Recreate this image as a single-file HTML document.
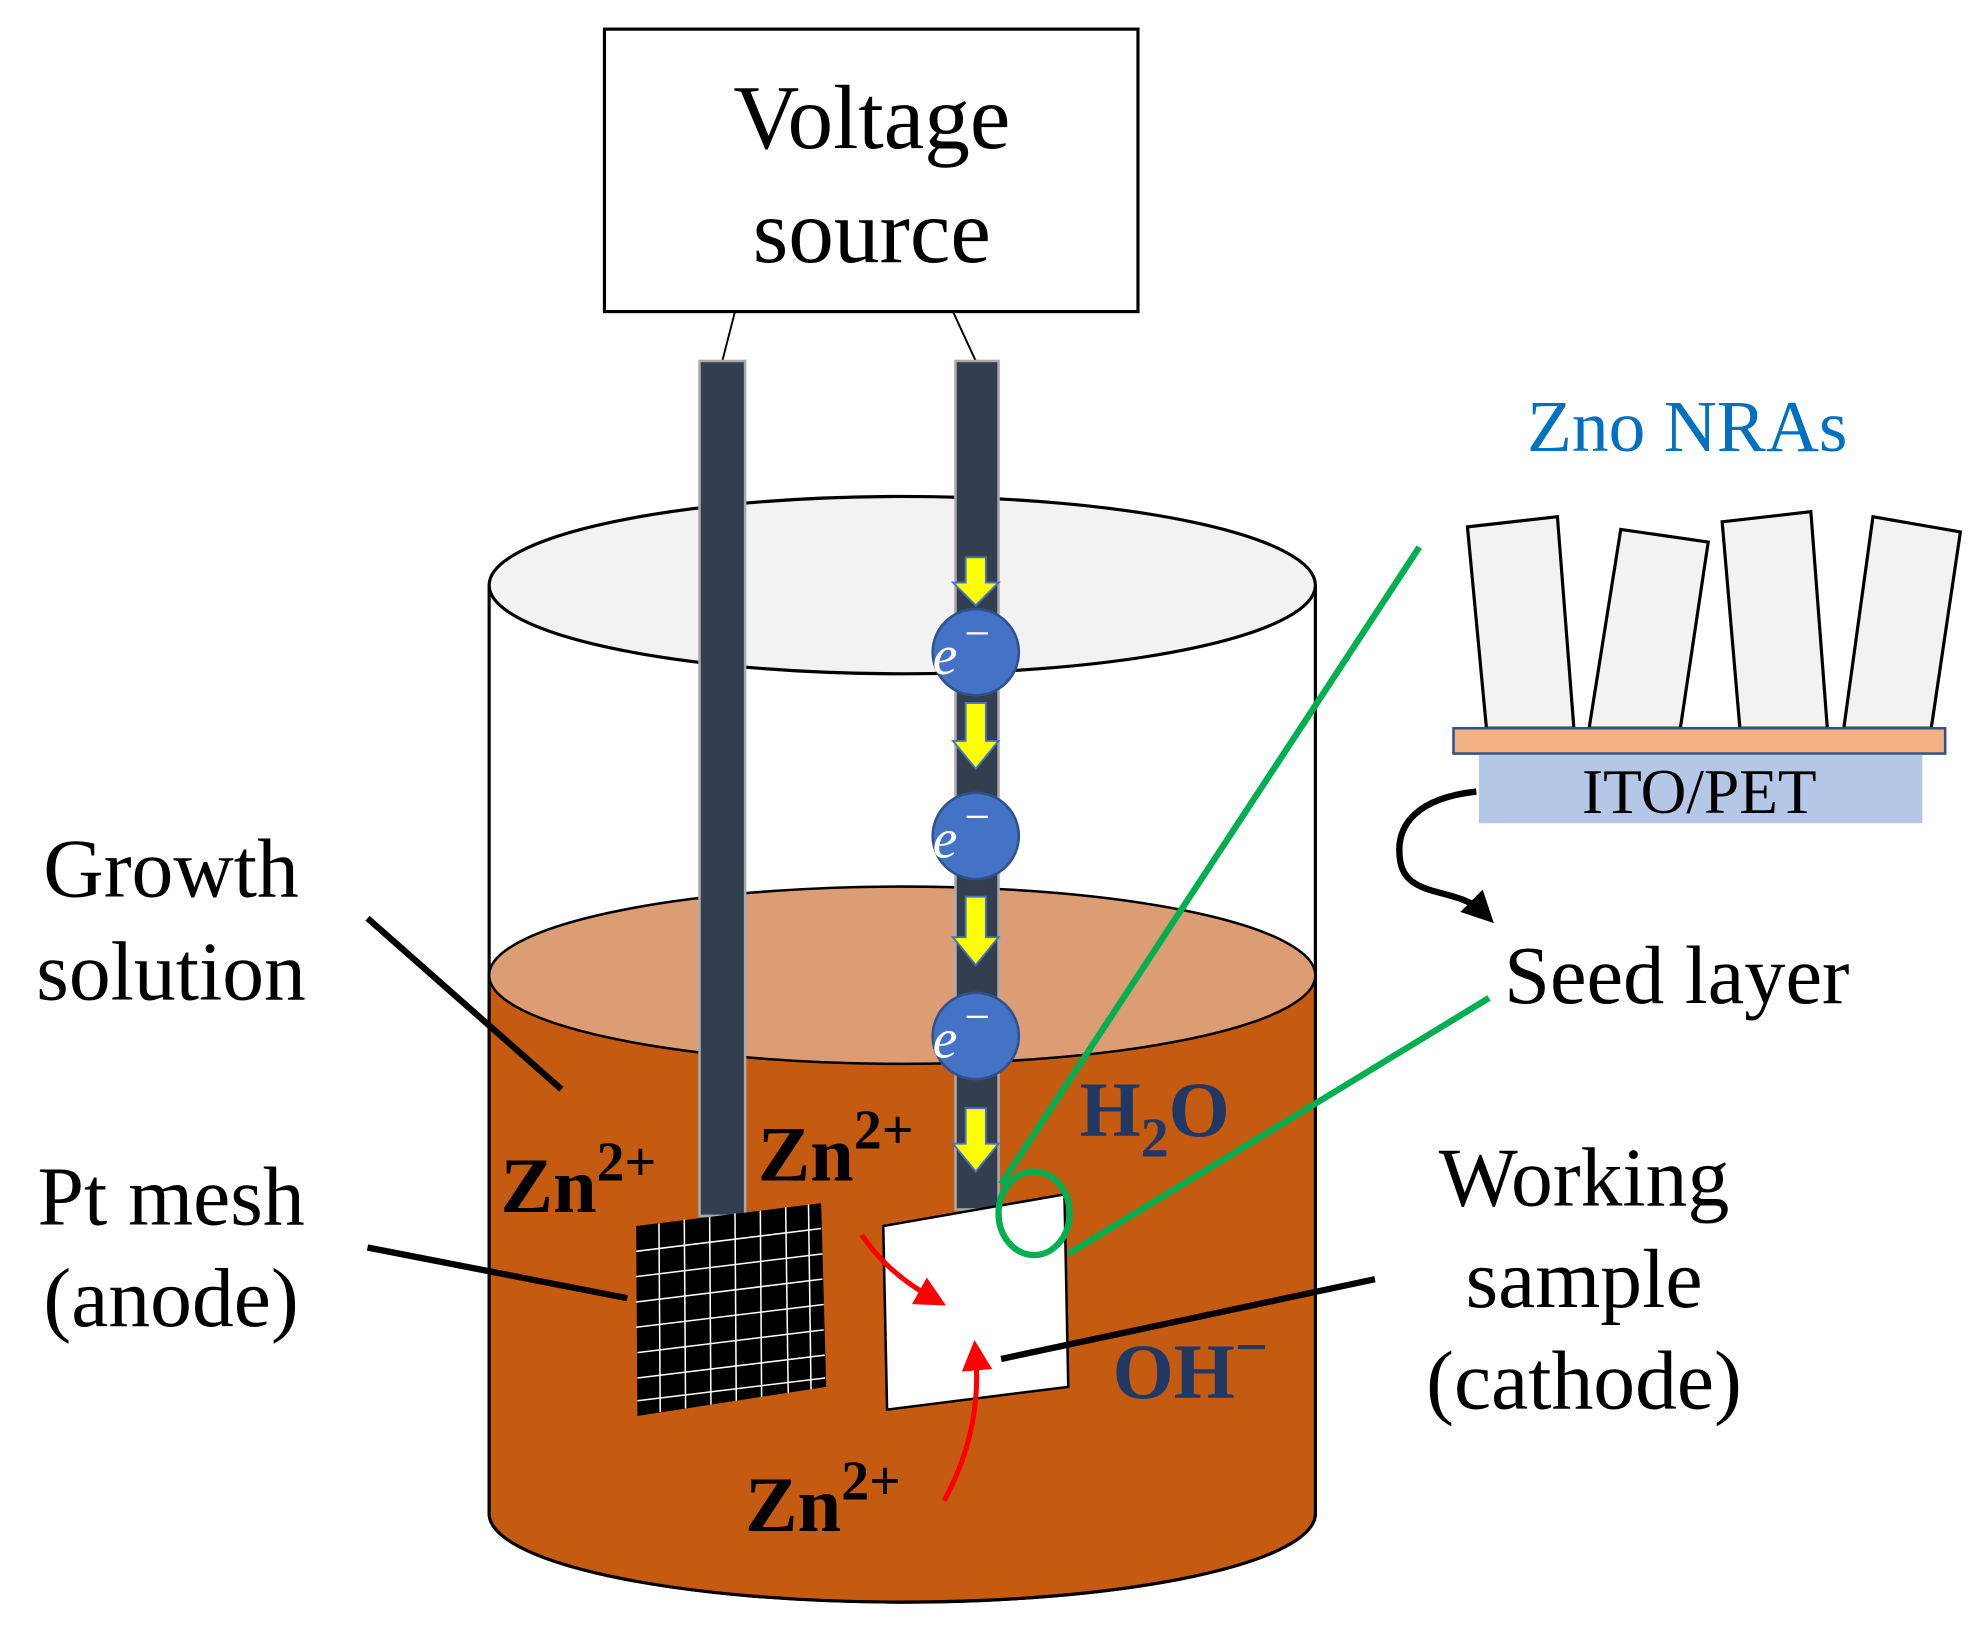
<!DOCTYPE html>
<html><head><meta charset="utf-8"><style>
html,body{margin:0;padding:0;background:#fff;}
svg{display:block;}
text{font-family:"Liberation Serif",serif;}
</style></head><body>
<svg width="1987" height="1630" viewBox="0 0 1568 1287" preserveAspectRatio="none" xmlns="http://www.w3.org/2000/svg">
<defs>
<marker id="rh" markerWidth="6" markerHeight="6" refX="3" refY="3" orient="auto" markerUnits="strokeWidth"><path d="M0,0 L6,3 L0,6 z" fill="#ff0000"/></marker>
<marker id="bh" markerWidth="5" markerHeight="5" refX="2.5" refY="2.5" orient="auto" markerUnits="strokeWidth"><path d="M0,0 L5,2.5 L0,5 z" fill="#000"/></marker>
</defs>
<rect x="477" y="23" width="421" height="223" fill="#fff" stroke="#000" stroke-width="2.5"/>
<text x="688" y="117" font-size="72" text-anchor="middle">Voltage</text>
<text x="688" y="207" font-size="72" text-anchor="middle">source</text>
<line x1="580" y1="246" x2="570" y2="285" stroke="#000" stroke-width="1.5"/>
<line x1="752" y1="246" x2="770" y2="285" stroke="#000" stroke-width="1.5"/>
<path d="M386,462 L386,1195 A326,70 0 0 0 1038,1195 L1038,462" fill="#fff" stroke="#000" stroke-width="2.5"/>
<ellipse cx="712" cy="462" rx="326" ry="70" fill="#f2f2f2" stroke="#000" stroke-width="2.5"/>
<path d="M386,770 L386,1195 A326,70 0 0 0 1038,1195 L1038,770 z" fill="#c55a11" stroke="#000" stroke-width="2.5"/>
<ellipse cx="712" cy="770" rx="326" ry="70" fill="#dc9c74" stroke="#000" stroke-width="2"/>
<rect x="552" y="285" width="36" height="675" fill="#333f50" stroke="#aaa" stroke-width="2"/>
<rect x="754" y="285" width="34" height="670" fill="#333f50" stroke="#aaa" stroke-width="2"/>
<g fill="#ffff00" stroke="#4472c4" stroke-width="1.5">
<path d="M762,440 h16 v20 h10 l-18,18 l-18,-18 h10 z"/>
<path d="M762,555 h16 v30 h10 l-18,22 l-18,-22 h10 z"/>
<path d="M762,708 h16 v32 h10 l-18,22 l-18,-22 h10 z"/>
<path d="M762,875 h16 v28 h10 l-18,22 l-18,-22 h10 z"/>
</g>
<g fill="#4472c4" stroke="#2f528f" stroke-width="2">
<circle cx="770" cy="515" r="34"/><circle cx="770" cy="660" r="34"/><circle cx="770" cy="818" r="34"/>
</g>
<g fill="#fff" font-size="44" font-style="italic">
<text x="736" y="532">e</text><text x="761" y="512" font-style="normal" font-size="36">−</text>
<text x="736" y="677">e</text><text x="761" y="657" font-style="normal" font-size="36">−</text>
<text x="736" y="835">e</text><text x="761" y="815" font-style="normal" font-size="36">−</text>
</g>
<polygon points="502,968 648,950 652,1095 503,1118" fill="#000"/>
<g stroke="#fff" stroke-width="1.2">
<line x1="520" y1="966" x2="521" y2="1115"/><line x1="540" y1="963" x2="541" y2="1112"/><line x1="560" y1="961" x2="561" y2="1109"/><line x1="580" y1="958" x2="581" y2="1106"/><line x1="600" y1="956" x2="601" y2="1103"/><line x1="620" y1="953" x2="622" y2="1100"/><line x1="638" y1="951" x2="640" y2="1097"/>
<line x1="502" y1="988" x2="648" y2="970"/><line x1="502" y1="1008" x2="649" y2="990"/><line x1="502" y1="1028" x2="649" y2="1010"/><line x1="502" y1="1048" x2="650" y2="1030"/><line x1="503" y1="1068" x2="650" y2="1050"/><line x1="503" y1="1088" x2="651" y2="1070"/><line x1="503" y1="1106" x2="651" y2="1088"/>
</g>
<polygon points="697,968 840,943 843,1095 700,1113" fill="#fff" stroke="#000" stroke-width="2"/>
<path d="M680,975 Q700,1005 736,1025" fill="none" stroke="#ff0000" stroke-width="4" marker-end="url(#rh)"/>
<path d="M745,1185 Q775,1130 770,1070" fill="none" stroke="#ff0000" stroke-width="4" marker-end="url(#rh)"/>
<ellipse cx="816" cy="958" rx="28" ry="33" fill="none" stroke="#00b050" stroke-width="5"/>
<line x1="790" y1="935" x2="1120" y2="432" stroke="#00b050" stroke-width="5"/>
<line x1="843" y1="990" x2="1175" y2="788" stroke="#00b050" stroke-width="5"/>
<line x1="290" y1="725" x2="443" y2="860" stroke="#000" stroke-width="5"/>
<line x1="290" y1="985" x2="495" y2="1025" stroke="#000" stroke-width="5"/>
<line x1="790" y1="1073" x2="1085" y2="1010" stroke="#000" stroke-width="5"/>
<g font-size="66" text-anchor="middle">
<text x="135" y="708">Growth</text><text x="135" y="789">solution</text>
<text x="135" y="967">Pt mesh</text><text x="135" y="1047">(anode)</text>
<text x="1250" y="952">Working</text><text x="1250" y="1032">sample</text><text x="1250" y="1112">(cathode)</text>
</g>
<g font-weight="bold" font-size="62">
<text x="395" y="957">Zn<tspan font-size="44" dy="-25">2+</tspan></text>
<text x="598" y="932">Zn<tspan font-size="44" dy="-25">2+</tspan></text>
<text x="588" y="1209">Zn<tspan font-size="44" dy="-25">2+</tspan></text>
<text x="852" y="897" fill="#1f3864">H<tspan font-size="44" dy="16">2</tspan><tspan dy="-16">O</tspan></text>
<text x="878" y="1104" fill="#1f3864">OH<tspan font-size="46" dy="-25">−</tspan></text>
</g>
<text x="1205" y="356" font-size="58" fill="#0070c0">Zno NRAs</text>
<g fill="#f2f2f2" stroke="#000" stroke-width="2.5">
<polygon points="1158,416 1229,408 1242,575 1173,575"/>
<polygon points="1279,418 1348,428 1326,575 1254,575"/>
<polygon points="1359,412 1429,404 1442,575 1373,575"/>
<polygon points="1478,408 1547,420 1524,575 1455,575"/>
</g>
<rect x="1147" y="575" width="388" height="20" fill="#f4b183" stroke="#2f528f" stroke-width="2"/>
<rect x="1167" y="596" width="350" height="54" fill="#b4c7e7"/>
<text x="1341" y="642" font-size="50" text-anchor="middle">ITO/PET</text>
<path d="M1165,625 C1120,630 1100,650 1105,680 C1110,710 1150,700 1170,720" fill="none" stroke="#000" stroke-width="5" marker-end="url(#bh)"/>
<text x="1187" y="792" font-size="65">Seed layer</text>
</svg>
</body></html>
